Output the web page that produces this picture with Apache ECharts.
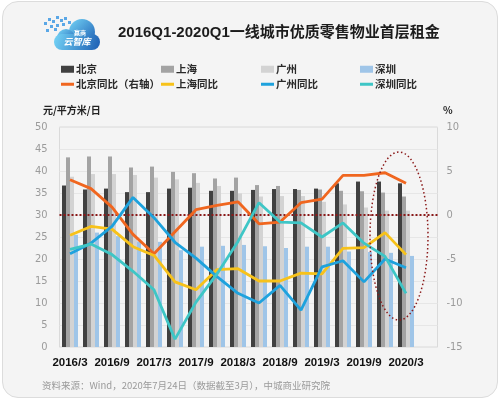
<!DOCTYPE html>
<html>
<head>
<meta charset="utf-8">
<script src="https://cdn.jsdelivr.net/npm/echarts@6/dist/echarts.min.js"></script>
<style>
  html, body { margin: 0; padding: 0; background: #fff; }
  #card {
    position: absolute; left: 2px; top: 1px; width: 494px; height: 395px;
    background: #f4f4f4; border: 1px solid #dcdcdc; border-radius: 16px;
  }
  #chart { position: absolute; left: 0; top: 0; width: 500px; height: 399px; }
</style>
</head>
<body>
<div id="card"></div>
<div id="chart"></div>
<script>
// quarters 2016Q1 .. 2020Q1, plus one empty slot at the end (as in the source chart)
const categories = [
  '2016/3', '2016/6', '2016/9', '2016/12',
  '2017/3', '2017/6', '2017/9', '2017/12',
  '2018/3', '2018/6', '2018/9', '2018/12',
  '2019/3', '2019/6', '2019/9', '2019/12',
  '2020/3', '2020/6'
];

// rent, 元/平方米/日 (left axis)
const beijing   = [36.7, 35.8, 36.0, 35.2, 35.2, 36.0, 36.2, 35.5, 35.5, 35.7, 35.9, 35.9, 36.0, 37.2, 37.6, 37.6, 37.2];
const shanghai  = [43.1, 43.3, 43.3, 40.8, 41.0, 39.8, 39.5, 38.3, 38.5, 36.8, 36.6, 35.7, 35.8, 35.5, 35.4, 35.1, 34.2];
const guangzhou = [38.7, 39.3, 39.3, 39.1, 38.5, 38.1, 37.3, 36.6, 34.9, 34.2, 34.3, 34.3, 33.0, 32.4, 31.7, 31.0, 31.0];
const shenzhen  = [25.5, 26.0, 25.2, 24.0, 23.9, 22.0, 22.8, 23.0, 23.2, 22.9, 22.5, 22.8, 22.8, 21.7, 21.6, 21.4, 20.7];

// year-on-year, % (right axis)
const beijingYoY   = [4.0, 3.0, 0.9, -2.2, -4.4, -1.9, 0.6, 1.1, 1.5, -1.0, -0.8, 1.4, 1.8, 4.5, 4.5, 4.8, 3.6];
const shanghaiYoY  = [-2.3, -1.3, -1.6, -3.6, -4.6, -7.6, -8.5, -6.2, -6.1, -7.5, -7.5, -6.6, -6.7, -3.8, -3.7, -2.0, -4.5];
const guangzhouYoY = [-4.4, -3.2, -1.3, 2.0, -0.3, -3.1, -4.9, -7.0, -8.9, -10.0, -8.0, -10.8, -5.9, -5.2, -7.6, -5.0, -6.0];
const shenzhenYoY  = [-3.9, -3.3, -4.5, -6.4, -8.5, -14.1, -9.9, -6.7, -3.0, 1.4, -0.8, -0.9, -2.5, -0.9, -3.2, -4.7, -8.9];

const leftTicks = { min: 0, max: 50, interval: 5 };
const rightTicks = { min: -15, max: 10, interval: 5 };

const CJK = '"Noto Sans CJK SC", sans-serif';
const NARROW = '"Liberation Sans Narrow", "DejaVu Sans Condensed", "Liberation Sans", sans-serif';

const COLORS = {
  beijing: '#404040',
  shanghai: '#a3a3a3',
  guangzhou: '#d3d3d3',
  shenzhen: '#9fc5e8',
  beijingYoY: '#f0661f',
  shanghaiYoY: '#f7c21a',
  guangzhouYoY: '#1ea2dd',
  shenzhenYoY: '#3ec6c6',
  mark: '#8b1a1a'
};

function legendItem(name, left, top, isLine) {
  return {
    data: [name],
    left: left,
    top: top,
    padding: 0,
    icon: 'rect',
    itemWidth: 13,
    itemHeight: isLine ? 3 : 7,
    itemGap: 0,
    textStyle: { fontSize: 10.5, fontWeight: 'bold', color: '#2a2a2a', fontFamily: CJK, padding: [0, 0, 0, -3] }
  };
}

function barSeries(name, data, color) {
  return {
    name: name,
    type: 'bar',
    data: data,
    barWidth: 4,
    barGap: '0%',
    itemStyle: { color: color },
    z: 2
  };
}

function lineSeries(name, data, color, extra) {
  return Object.assign({
    name: name,
    type: 'line',
    yAxisIndex: 1,
    data: data,
    symbol: 'none',
    smooth: false,
    lineStyle: { width: 2.8, color: color },
    itemStyle: { color: color },
    z: 5
  }, extra || {});
}

// small logo: cloud + pixel squares
const logoDots = [];
[[0, 6], [4, 2], [8, 4], [12, 0], [16, 3], [20, 1], [6, 9], [12, 8], [18, 7], [24, 5], [2, 13], [10, 12]].forEach(p => {
  logoDots.push({
    type: 'rect',
    shape: { x: p[0], y: p[1], width: 3, height: 3 },
    style: { fill: '#5aa7e6' }
  });
});
const cloudFill = new echarts.graphic.LinearGradient(0, 0, 1, 1, [
  { offset: 0, color: '#74d4f6' },
  { offset: 1, color: '#1c5db3' }
]);

const chart = echarts.init(document.getElementById('chart'));
chart.setOption({
  animation: false,
  backgroundColor: 'transparent',
  title: {
    text: '2016Q1-2020Q1一线城市优质零售物业首层租金',
    left: 118,
    top: 25,
    padding: 0,
    textStyle: { fontSize: 15, fontWeight: 'bold', color: '#1c1c1c', fontFamily: '"Liberation Sans", ' + CJK }
  },
  legend: [
    legendItem('北京', 61, 64, false),
    legendItem('上海', 161, 64, false),
    legendItem('广州', 261, 64, false),
    legendItem('深圳', 360, 64, false),
    legendItem('北京同比（右轴）', 61, 79, true),
    legendItem('上海同比', 161, 79, true),
    legendItem('广州同比', 261, 79, true),
    legendItem('深圳同比', 360, 79, true)
  ],
  grid: {
    left: 59.5,
    right: 62.5,
    top: 127,
    bottom: 52,
    show: true,
    borderColor: '#dadada',
    borderWidth: 1
  },
  xAxis: {
    type: 'category',
    data: categories,
    axisLine: { show: false },
    axisTick: { show: false },
    axisLabel: {
      interval: (i) => i % 2 === 0 && i < beijing.length,
      hideOverlap: false,
      showMinLabel: true,
      margin: 10,
      color: '#111',
      fontSize: 11.5,
      fontWeight: 'bold',
      fontFamily: '"Liberation Sans", sans-serif'
    }
  },
  yAxis: [
    Object.assign({
      type: 'value',
      axisLine: { show: false },
      axisTick: { show: false },
      axisLabel: { color: '#9b9b9b', fontSize: 11, margin: 12, fontFamily: NARROW },
      splitLine: { lineStyle: { color: '#e6e6e6', width: 1 } }
    }, leftTicks),
    Object.assign({
      type: 'value',
      position: 'right',
      axisLine: { show: false },
      axisTick: { show: false },
      axisLabel: { color: '#9b9b9b', fontSize: 11, margin: 9, fontFamily: NARROW },
      splitLine: { show: false }
    }, rightTicks)
  ],
  series: [
    barSeries('北京', beijing, COLORS.beijing),
    barSeries('上海', shanghai, COLORS.shanghai),
    barSeries('广州', guangzhou, COLORS.guangzhou),
    barSeries('深圳', shenzhen, COLORS.shenzhen),
    lineSeries('北京同比（右轴）', beijingYoY, COLORS.beijingYoY, {
      markLine: {
        silent: true,
        symbol: 'none',
        label: { show: false },
        lineStyle: { type: [2, 2], color: COLORS.mark, width: 2 },
        data: [{ yAxis: 0 }],
        z: 3
      }
    }),
    lineSeries('上海同比', shanghaiYoY, COLORS.shanghaiYoY),
    lineSeries('广州同比', guangzhouYoY, COLORS.guangzhouYoY),
    lineSeries('深圳同比', shenzhenYoY, COLORS.shenzhenYoY)
  ],
  graphic: [
    {
      type: 'group',
      left: 44,
      top: 16,
      children: [
        { type: 'circle', shape: { cx: 38, cy: 16, r: 13 }, style: { fill: cloudFill } },
        { type: 'circle', shape: { cx: 22, cy: 22, r: 9 }, style: { fill: cloudFill } },
        { type: 'rect', shape: { x: 10, y: 18, width: 46, height: 16, r: 8 }, style: { fill: cloudFill } }
      ].concat(logoDots).concat([
        {
          type: 'text',
          style: { x: 36, y: 17, text: '赢商', fill: '#fff', fontSize: 6, fontWeight: 'bold', fontFamily: CJK, align: 'center', verticalAlign: 'middle' }
        },
        {
          type: 'text',
          style: { x: 33, y: 26, text: '云智库', fill: '#fff', fontSize: 9, fontStyle: 'italic', fontWeight: 'bold', fontFamily: CJK, align: 'center', verticalAlign: 'middle' }
        }
      ])
    },
    {
      type: 'text',
      style: { x: 43, y: 110, text: '元/平方米/日', fill: '#222', fontSize: 10, fontWeight: 'bold', fontFamily: CJK, verticalAlign: 'middle' }
    },
    {
      type: 'text',
      style: { x: 443, y: 110, text: '%', fill: '#222', fontSize: 10, fontWeight: 'bold', fontFamily: CJK, verticalAlign: 'middle' }
    },
    {
      type: 'ellipse',
      shape: { cx: 399, cy: 236, rx: 29, ry: 84 },
      style: { fill: null, stroke: COLORS.mark, lineWidth: 1.5, lineDash: [1.5, 2.5] },
      z: 100
    },
    {
      type: 'text',
      style: { x: 42, y: 385, text: '资料来源：Wind，2020年7月24日（数据截至3月），中城商业研究院', fill: '#9a9a9a', fontSize: 9.5, fontFamily: CJK, verticalAlign: 'middle' }
    }
  ]
});
</script>
</body>
</html>
